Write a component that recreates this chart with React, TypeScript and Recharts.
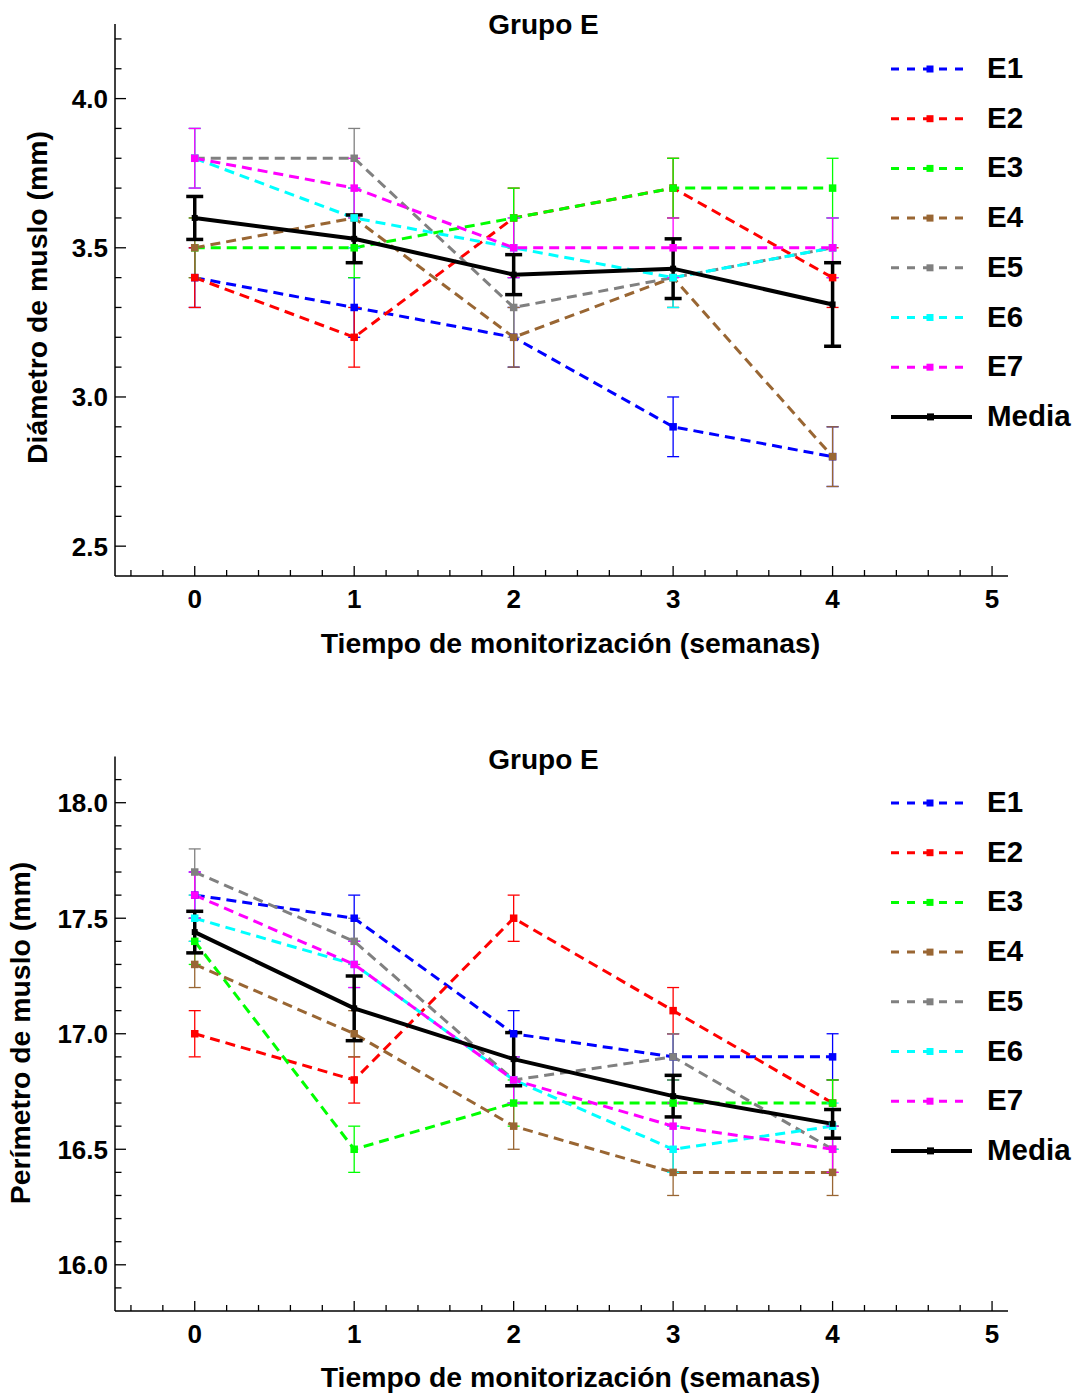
import React from "react";
import { LineChart, Line, XAxis, YAxis, ErrorBar, Legend } from "recharts";

const weeks = [0, 1, 2, 3, 4];
const seriesNames = ["E1", "E2", "E3", "E4", "E5", "E6", "E7"];
const seriesColors = ["#0000ff", "#ff0000", "#00ff00", "#996633", "#808080", "#00ffff", "#ff00ff"];

// Diámetro de muslo (mm)
const diamE1 = [3.4, 3.3, 3.2, 2.9, 2.8];
const diamE2 = [3.4, 3.2, 3.6, 3.7, 3.4];
const diamE3 = [3.5, 3.5, 3.6, 3.7, 3.7];
const diamE4 = [3.5, 3.6, 3.2, 3.4, 2.8];
const diamE5 = [3.8, 3.8, 3.3, 3.4, 3.5];
const diamE6 = [3.8, 3.6, 3.5, 3.4, 3.5];
const diamE7 = [3.8, 3.7, 3.5, 3.5, 3.5];
const diamErr = [0.1, 0.1, 0.1, 0.1, 0.1];
const diamMedia = [3.6, 3.53, 3.41, 3.43, 3.31];
const diamMediaErr = [0.072, 0.08, 0.067, 0.1, 0.14];

// Perímetro de muslo (mm)
const periE1 = [17.6, 17.5, 17.0, 16.9, 16.9];
const periE2 = [17.0, 16.8, 17.5, 17.1, 16.7];
const periE3 = [17.4, 16.5, 16.7, 16.7, 16.7];
const periE4 = [17.3, 17.0, 16.6, 16.4, 16.4];
const periE5 = [17.7, 17.4, 16.8, 16.9, 16.5];
const periE6 = [17.5, 17.3, 16.8, 16.5, 16.6];
const periE7 = [17.6, 17.3, 16.8, 16.6, 16.5];
const periErr = [0.1, 0.1, 0.1, 0.1, 0.1];
const periMedia = [17.44, 17.11, 16.89, 16.73, 16.61];
const periMediaErr = [0.09, 0.14, 0.115, 0.09, 0.062];

const font = '"Liberation Sans", Arial, sans-serif';

// tick values (minor every 0.2 on x, 0.1 on y)
const xTicks = Array.from({ length: 28 }, (_, i) => Math.round((-0.4 + i * 0.2) * 10) / 10);
const diamTicks = Array.from({ length: 18 }, (_, i) => Math.round((2.5 + i * 0.1) * 10) / 10);
const periTicks = Array.from({ length: 23 }, (_, i) => Math.round((15.9 + i * 0.1) * 10) / 10);

function buildRows(series: number[][], err: number[], media: number[], mediaErr: number[]) {
  return weeks.map((w, i) => {
    const row: any = { week: w, Media: media[i], MediaErr: mediaErr[i] };
    series.forEach((s, k) => {
      row[seriesNames[k]] = s[i];
      row[seriesNames[k] + "Err"] = err[i];
    });
    return row;
  });
}

const squareDot = (color: string, size: number) => (props: any) => {
  const { cx, cy, index } = props;
  if (cx == null || cy == null) return <g key={index} />;
  return <rect key={index} x={cx - size / 2} y={cy - size / 2} width={size} height={size} fill={color} />;
};

const XTick = (props: any) => {
  const { x, y, payload } = props;
  const v = payload.value;
  const major = Math.abs(v - Math.round(v)) < 1e-6;
  return (
    <g>
      <line x1={x} x2={x} y1={y} y2={y - (major ? 10 : 6)} stroke="#000" strokeWidth={1.3} />
      {major && (
        <text x={x} y={y + 32} textAnchor="middle" fontFamily={font} fontWeight="bold" fontSize={26} fill="#000">
          {Math.round(v)}
        </text>
      )}
    </g>
  );
};

const YTick = (props: any) => {
  const { x, y, payload } = props;
  const v = payload.value;
  const major = Math.abs(v * 2 - Math.round(v * 2)) < 1e-6;
  return (
    <g>
      <line x1={x} x2={x + (major ? 11 : 6.5)} y1={y} y2={y} stroke="#000" strokeWidth={1.3} />
      {major && (
        <text x={x - 7} y={y + 9.5} textAnchor="end" fontFamily={font} fontWeight="bold" fontSize={26} fill="#000">
          {v.toFixed(1)}
        </text>
      )}
    </g>
  );
};

const LegendBox = () => (
  <svg width={192} height={400}>
    {seriesNames.map((n, i) => {
      const y = 24 + i * 49.7;
      return (
        <g key={n}>
          <line x1={6} x2={81} y1={y} y2={y} stroke={seriesColors[i]} strokeWidth={3} strokeDasharray="8 8" />
          <rect x={41.5} y={y - 3.5} width={7} height={7} fill={seriesColors[i]} />
          <text x={102} y={y + 9} fontFamily={font} fontWeight="bold" fontSize={29.5} fill="#000">
            {n}
          </text>
        </g>
      );
    })}
    <g>
      <line x1={6} x2={87} y1={24 + 7 * 49.7} y2={24 + 7 * 49.7} stroke="#000" strokeWidth={4} />
      <rect x={42} y={24 + 7 * 49.7 - 3.5} width={7} height={7} fill="#000" />
      <text x={102} y={24 + 7 * 49.7 + 9} fontFamily={font} fontWeight="bold" fontSize={29.5} fill="#000">
        Media
      </text>
    </g>
  </svg>
);

interface PanelProps {
  top: number;
  height: number;
  marginTop: number;
  xAxisHeight: number;
  rows: any[];
  domain: [number, number];
  yTicks: number[];
  yLabel: string;
  yLabelX: number;
  yLabelY: number;
  xLabelY: number;
  legendTop: number;
  title: string;
  titleTop: number;
}

function Panel(p: PanelProps) {
  return (
    <div style={{ position: "absolute", left: 0, top: p.top, width: 1076, height: p.height }}>
      <LineChart width={1076} height={p.height} data={p.rows} margin={{ top: p.marginTop, right: 68, left: 0, bottom: 0 }}>
        <XAxis
          dataKey="week"
          type="number"
          domain={[-0.5, 5.1]}
          ticks={xTicks}
          interval={0}
          allowDataOverflow
          height={p.xAxisHeight}
          tickSize={0}
          tickMargin={0}
          tickLine={false}
          tick={<XTick />}
          axisLine={{ stroke: "#000", strokeWidth: 1.5 }}
          label={{
            content: () => (
              <text x={570.5} y={p.xLabelY} textAnchor="middle" fontFamily={font} fontWeight="bold" fontSize={28.4} fill="#000">
                Tiempo de monitorización (semanas)
              </text>
            ),
          }}
        />
        <YAxis
          type="number"
          domain={p.domain}
          ticks={p.yTicks}
          interval={0}
          allowDataOverflow
          width={115}
          tickSize={0}
          tickMargin={0}
          tickLine={false}
          tick={<YTick />}
          axisLine={{ stroke: "#000", strokeWidth: 1.5 }}
          label={{
            content: () => (
              <text
                x={p.yLabelX}
                y={p.yLabelY}
                textAnchor="middle"
                transform={`rotate(-90, ${p.yLabelX}, ${p.yLabelY})`}
                fontFamily={font}
                fontWeight="bold"
                fontSize={28.4}
                fill="#000"
              >
                {p.yLabel}
              </text>
            ),
          }}
        />
        <Legend
          layout="vertical"
          align="center"
          verticalAlign="middle"
          wrapperStyle={{ left: 885, top: p.legendTop, width: 192 }}
          content={() => <LegendBox />}
        />
        {seriesNames.map((n, k) => (
          <Line
            key={n}
            dataKey={n}
            stroke={seriesColors[k]}
            strokeWidth={3}
            strokeDasharray="10 6"
            dot={squareDot(seriesColors[k], 7.5)}
            activeDot={false}
            isAnimationActive={false}
          >
            <ErrorBar dataKey={n + "Err"} direction="y" width={6} stroke={seriesColors[k]} strokeWidth={1.3} isAnimationActive={false} />
          </Line>
        ))}
        <Line dataKey="Media" stroke="#000" strokeWidth={4} dot={squareDot("#000", 6)} activeDot={false} isAnimationActive={false}>
          <ErrorBar dataKey="MediaErr" direction="y" width={8.5} stroke="#000" strokeWidth={3.5} isAnimationActive={false} />
        </Line>
      </LineChart>
      <div
        style={{
          position: "absolute",
          left: 443.5,
          width: 200,
          top: p.titleTop,
          textAlign: "center",
          fontFamily: font,
          fontWeight: "bold",
          fontSize: 28,
          lineHeight: "28px",
        }}
      >
        {p.title}
      </div>
    </div>
  );
}

export default function App() {
  const diamRows = buildRows([diamE1, diamE2, diamE3, diamE4, diamE5, diamE6, diamE7], diamErr, diamMedia, diamMediaErr);
  const periRows = buildRows([periE1, periE2, periE3, periE4, periE5, periE6, periE7], periErr, periMedia, periMediaErr);
  return (
    <div style={{ position: "absolute", left: 0, top: 0, width: 1076, height: 1393, background: "#fff" }}>
      <Panel
        top={0}
        height={700}
        marginTop={24}
        xAxisHeight={124}
        rows={diamRows}
        domain={[2.4, 4.25]}
        yTicks={diamTicks}
        yLabel="Diámetro de muslo (mm)"
        yLabelX={47}
        yLabelY={297.5}
        xLabelY={653}
        legendTop={45}
        title="Grupo E"
        titleTop={11}
      />
      <Panel
        top={700}
        height={693}
        marginTop={56.5}
        xAxisHeight={82}
        rows={periRows}
        domain={[15.8, 18.2]}
        yTicks={periTicks}
        yLabel="Perímetro de muslo (mm)"
        yLabelX={30}
        yLabelY={333}
        xLabelY={687}
        legendTop={79}
        title="Grupo E"
        titleTop={46}
      />
    </div>
  );
}
